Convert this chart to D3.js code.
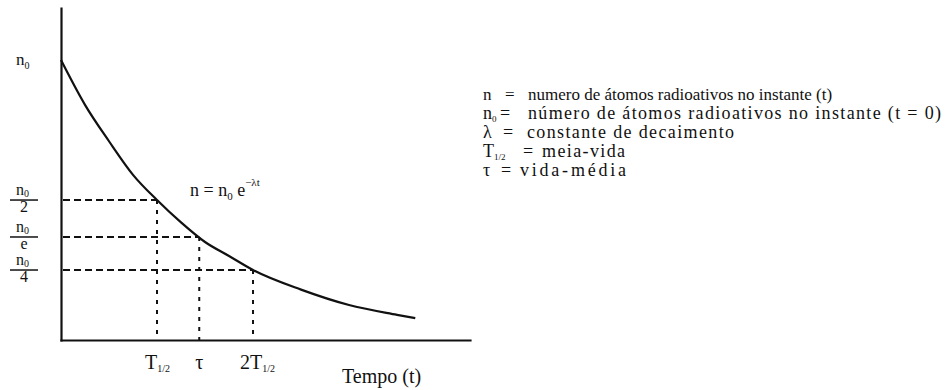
<!DOCTYPE html>
<html>
<head>
<meta charset="utf-8">
<script src="https://d3js.org/d3.v7.min.js"></script>
<style>
  body { margin: 0; background: #fff; }
  svg text { font-family: "Liberation Serif", "DejaVu Serif", serif; fill: #111; }
</style>
</head>
<body>
<svg id="chart" width="945" height="390" font-family="Liberation Serif, DejaVu Serif, serif"></svg>
<script>
// decay curve (t in half-lives, n as fraction of n0)
var decayT = [0, 0.25, 0.5, 0.75, 1, 1.25, 1.5, 1.75, 2, 2.5, 3, 3.5, 3.69];
var decayN = [1, 0.84, 0.71, 0.59, 0.5, 0.42, 0.35, 0.30, 0.25, 0.18, 0.125, 0.09, 0.078];

// marked points: time and level
var markT = [1, 1.44, 2];
var markN = [0.5, 0.368, 0.25];
var markDen = ["2", "e", "4"];

// legend rows
var legSym = ["n", "n", "λ", "T", "τ"];
var legSub = ["", "0", "", "1/2", ""];
var legDesc = [
  "numero de átomos radioativos no instante (t)",
  "número de átomos radioativos no instante (t = 0)",
  "constante de decaimento",
  "meia-vida",
  "vida-média"
];

var svg = d3.select("#chart");
var x = d3.scaleLinear().domain([0, 4.26]).range([61, 470]);
var y = d3.scaleLinear().domain([0, 1.186]).range([340, 8]);

// axes (no ticks, just the lines)
svg.append("g")
  .attr("transform", "translate(0," + y(0) + ")")
  .call(d3.axisBottom(x).tickValues([]).tickSizeOuter(0))
  .select(".domain").attr("stroke", "#111").attr("stroke-width", 2.2).attr("stroke-linecap", "square");
svg.append("g")
  .attr("transform", "translate(" + x(0) + ",0)")
  .call(d3.axisLeft(y).tickValues([]).tickSizeOuter(0))
  .select(".domain").attr("stroke", "#111").attr("stroke-width", 2.2).attr("stroke-linecap", "square");

// dashed guides
var guides = svg.append("g").attr("stroke", "#111").attr("stroke-width", 2);
markT.forEach(function(t, i) {
  guides.append("line")
    .attr("x1", x(0) + 2).attr("x2", x(t))
    .attr("y1", y(markN[i])).attr("y2", y(markN[i]))
    .attr("stroke-dasharray", "7,4");
  guides.append("line")
    .attr("x1", x(t)).attr("x2", x(t))
    .attr("y1", y(markN[i])).attr("y2", y(0))
    .attr("stroke-dasharray", "4,6");
});

// curve
var pts = decayT.map(function(t, i) { return [t, decayN[i]]; });
svg.append("path")
  .datum(pts)
  .attr("fill", "none")
  .attr("stroke", "#111")
  .attr("stroke-width", 2.2)
  .attr("d", d3.line().x(function(d) { return x(d[0]); }).y(function(d) { return y(d[1]); }).curve(d3.curveMonotoneX));

// y labels
var top0 = svg.append("text").attr("x", 16).attr("y", y(1) + 5).style("font-size", "17px");
top0.append("tspan").text("n");
top0.append("tspan").attr("dy", 4).style("font-size", "10px").text("0");

markN.forEach(function(v, i) {
  var yy = y(v);
  svg.append("line").attr("x1", 10).attr("x2", 38).attr("y1", yy).attr("y2", yy)
    .attr("stroke", "#111").attr("stroke-width", 1.5);
  var num = svg.append("text").attr("x", 16).attr("y", yy - 5).style("font-size", "16px");
  num.append("tspan").text("n");
  num.append("tspan").attr("dy", 2).style("font-size", "10px").text("0");
  svg.append("text").attr("x", 24).attr("y", yy + 12).attr("text-anchor", "middle")
    .style("font-size", "16px").text(markDen[i]);
});

// x labels
var xl1 = svg.append("text").attr("x", x(markT[0]) - 12).attr("y", 369).style("font-size", "20px");
xl1.append("tspan").text("T");
xl1.append("tspan").attr("dy", 3).style("font-size", "10px").text("1/2");
svg.append("text").attr("x", x(markT[1])).attr("y", 369).attr("text-anchor", "middle")
  .style("font-size", "20px").text("τ");
var xl3 = svg.append("text").attr("x", x(markT[2]) - 13).attr("y", 369).style("font-size", "20px");
xl3.append("tspan").text("2T");
xl3.append("tspan").attr("dy", 3).style("font-size", "10px").text("1/2");
svg.append("text").attr("x", 342).attr("y", 383).style("font-size", "20px").text("Tempo (t)");

// equation
var eq = svg.append("text").attr("x", 190).attr("y", 196).style("font-size", "18px");
eq.append("tspan").text("n = n");
eq.append("tspan").attr("dy", 4).style("font-size", "11px").text("0");
eq.append("tspan").attr("dy", -4).text(" e");
eq.append("tspan").attr("dy", -10).style("font-size", "11px").text("−λt");

// legend
var eqX = [505, 500, 503, 523, 501];
var descX = [528, 528, 527, 542, 520];
var descW = [0, 413, 207, 83, 106];   // widths of the scanned rows, 0 = natural
legSym.forEach(function(s, i) {
  var by = 100 + i * 19;
  var fs = i === 0 ? "17px" : "18px";
  var t = svg.append("text").attr("x", 483).attr("y", by).style("font-size", fs);
  t.append("tspan").text(s);
  if (legSub[i]) t.append("tspan").attr("dy", 3).style("font-size", "9px").text(legSub[i]);
  svg.append("text").attr("x", eqX[i]).attr("y", by).style("font-size", fs).text("=");
  var d = svg.append("text").attr("x", descX[i]).attr("y", by).style("font-size", fs).text(legDesc[i]);
  if (descW[i]) d.attr("textLength", descW[i]).attr("lengthAdjust", "spacing");
});
</script>
</body>
</html>
